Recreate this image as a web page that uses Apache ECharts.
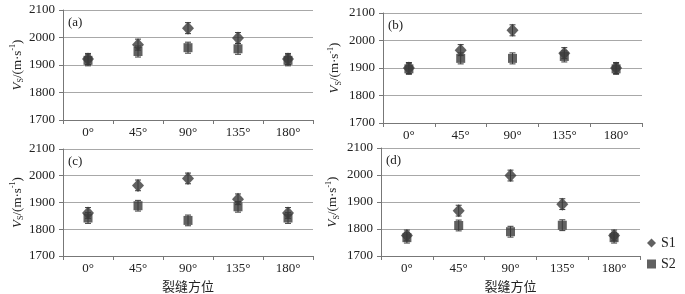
<!DOCTYPE html>
<html><head><meta charset="utf-8">
<script src="https://cdn.jsdelivr.net/npm/echarts@6/dist/echarts.min.js"></script>
<style>html,body{margin:0;padding:0;background:#fff}#c{width:685px;height:294px}</style>
</head><body><div id="c"></div>
<script>
const categories = ['0°','45°','90°','135°','180°'];
const yTicks = [1700, 2100, 100];
const a_S1 = [1922, 1974, 2034, 1998, 1922];
const a_S2 = [1917, 1949, 1963, 1959, 1917];
const b_S1 = [1900, 1965, 2037, 1954, 1900];
const b_S2 = [1897, 1935, 1935, 1942, 1897];
const c_S1 = [1861, 1964, 1990, 1912, 1861];
const c_S2 = [1842, 1888, 1833, 1884, 1842];
const d_S1 = [1776, 1868, 1998, 1892, 1776];
const d_S2 = [1768, 1813, 1790, 1814, 1768];
const a_err = [20, 20, 20, 20, 20];
const b_err = [20, 20, 20, 20, 20];
const c_err = [20, 20, 20, 20, 20];
const d_err = [20, 20, 20, 20, 20];
const panelLabels = ['(a)', '(b)', '(c)', '(d)'];
const xName = '裂缝方位';

const panels = [
  {s1: a_S1, s2: a_S2, err: a_err},
  {s1: b_S1, s2: b_S2, err: b_err},
  {s1: c_S1, s2: c_S2, err: c_err},
  {s1: d_S1, s2: d_S2, err: d_err}
];
const grids = [
  {left: 63, top: 10, width: 250, height: 110},
  {left: 383, top: 13, width: 259, height: 110},
  {left: 63, top: 149, width: 250, height: 110},
  {left: 381, top: 148, width: 259, height: 111}
];
const nameGaps = [36, 40, 36, 40];
const SERIF = '"Liberation Serif","Times New Roman",serif';
const DARK = '#3a3a3a';

const xAxes = [], yAxes = [], series = [], graphics = [];
panels.forEach((p, i) => {
  xAxes.push({
    type: 'category', gridIndex: i, data: categories,
    boundaryGap: true,
    axisLine: {lineStyle: {color: '#777'}},
    axisTick: {show: true, length: 4, lineStyle: {color: '#777'}},
    axisLabel: {fontFamily: SERIF, fontSize: 13, color: '#222', margin: 6},
    name: i >= 2 ? xName : '', nameLocation: 'middle', nameGap: 24,
    nameTextStyle: {fontFamily: '"Noto Sans CJK SC",serif', fontSize: 13, color: '#222'}
  });
  yAxes.push({
    type: 'value', gridIndex: i, min: yTicks[0], max: yTicks[1], interval: yTicks[2],
    axisLine: {show: true, lineStyle: {color: '#777'}},
    axisTick: {show: true, length: 4, lineStyle: {color: '#777'}},
    axisLabel: {fontFamily: SERIF, fontSize: 13, color: '#222', margin: 8, formatter: v => String(v)},
    splitLine: {show: true, lineStyle: {color: '#a8a8a8', width: 1}},
    name: '{v|V}{sub|S}{n|/(m·s}{sup|-1}{n|)}',
    nameLocation: 'middle', nameGap: nameGaps[i], nameRotate: 90,
    nameTextStyle: {
      fontFamily: SERIF, color: '#222',
      rich: {
        v: {fontFamily: SERIF, fontStyle: 'italic', fontSize: 13, color: '#222', lineHeight: 16},
        sub: {fontFamily: SERIF, fontSize: 8, color: '#222', lineHeight: 16, verticalAlign: 'bottom', padding: [6,0,0,0]},
        n: {fontFamily: SERIF, fontSize: 13, color: '#222', lineHeight: 16},
        sup: {fontFamily: SERIF, fontSize: 8, color: '#222', lineHeight: 16, verticalAlign: 'top', padding: [0,0,6,0]}
      }
    }
  });
  ['S1', 'S2'].forEach(nm => {
    const vals = nm === 'S1' ? p.s1 : p.s2;
    series.push({
      type: 'custom', xAxisIndex: i, yAxisIndex: i, silent: true, z: 1,
      data: vals.map((v, k) => [k, v, p.err[k]]),
      renderItem: function (params, api) {
        const x = api.value(0), y = api.value(1), e = api.value(2);
        const t = api.coord([x, y + e]), b = api.coord([x, y - e]);
        const hw = 3;
        const st = {stroke: DARK, lineWidth: 1};
        return {type: 'group', children: [
          {type: 'line', shape: {x1: t[0], y1: t[1], x2: b[0], y2: b[1]}, style: st},
          {type: 'line', shape: {x1: t[0]-hw, y1: t[1], x2: t[0]+hw, y2: t[1]}, style: st},
          {type: 'line', shape: {x1: b[0]-hw, y1: b[1], x2: b[0]+hw, y2: b[1]}, style: st}
        ]};
      }
    });
  });
  series.push({
    name: 'S1', type: 'scatter', xAxisIndex: i, yAxisIndex: i, data: p.s1,
    symbol: 'diamond', symbolSize: [12, 13], itemStyle: {color: DARK}, z: 2
  });
  series.push({
    name: 'S2', type: 'scatter', xAxisIndex: i, yAxisIndex: i, data: p.s2,
    symbol: 'rect', symbolSize: 9, itemStyle: {color: DARK}, z: 3
  });
  graphics.push({
    type: 'text', left: grids[i].left + 5, top: grids[i].top + 6,
    style: {text: panelLabels[i], font: '13px ' + SERIF, fill: '#222'}
  });
});

const chart = echarts.init(document.getElementById('c'), null, {renderer: 'canvas'});
chart.setOption({
  animation: false,
  backgroundColor: '#fff',
  grid: grids,
  xAxis: xAxes,
  yAxis: yAxes,
  series: series,
  graphic: graphics,
  legend: {
    data: [{name: 'S1', icon: 'diamond'}, {name: 'S2', icon: 'rect'}],
    orient: 'vertical', left: 642, top: 231, itemWidth: 9, itemHeight: 9, itemGap: 7,
    selectedMode: false,
    textStyle: {fontFamily: SERIF, fontSize: 14, color: '#222'}
  }
});
</script></body></html>
